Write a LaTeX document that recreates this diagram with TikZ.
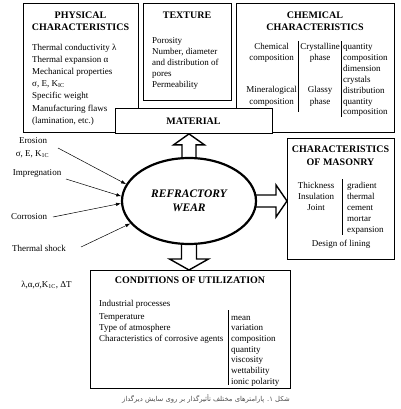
\documentclass[tikz,border=0pt]{standalone}
\usepackage{fontspec}
\setmainfont{Liberation Serif}
\newfontfamily\persianfont[Script=Arabic]{DejaVu Sans}
\TeXXeTstate=1
\usetikzlibrary{positioning,calc,shapes.geometric,arrows.meta,backgrounds}

\tikzset{
  box/.style={draw, line width=0.9pt, fill=white, anchor=north west, inner sep=0pt},
  boxhead/.style={anchor=base, inner sep=0pt, font=\fontsize{10}{12}\selectfont\bfseries},
  boxtext/.style={anchor=base west, inner sep=0pt, font=\fontsize{9}{10}\selectfont},
  boxctext/.style={boxtext, anchor=base},
  fat/.style={draw, line width=1.4pt, fill=white, line join=miter},
  cause/.style={-{Latex[length=5pt,width=3.5pt]}, line width=0.5pt},
  divider/.style={line width=0.6pt},
}

\begin{document}
\begin{tikzpicture}[x=1pt,y=-1pt]
\useasboundingbox (0,0) rectangle (400,409);

% boxes above the wear
\node[box, minimum width=115pt, minimum height=129pt] (phys) at (23,3) {};
\node[box, minimum width=88pt, minimum height=97pt] (tex) at (143,3) {};
\node[box, minimum width=158pt, minimum height=129pt] (chem) at (236,3) {};
\node[box, minimum width=157pt, minimum height=25pt] (mat) at (115,108) {};
\node[boxhead] (matt) at (193.5,124.5) {MATERIAL};

% physical
\node[boxhead] (phyt1) at (80.5,19) {PHYSICAL};
\node[boxhead] (phyt2) at (80.5,31) {CHARACTERISTICS};
\foreach \t [count=\i] in {Thermal conductivity λ, Thermal expansion α, Mechanical properties, {σ, E, K\textsubscript{IC}}, Specific weight, Manufacturing flaws, {(lamination, etc.)}}
  \node[boxtext] (phy\i) at (32,{39+12*\i}) {\t};

% texture
\node[boxhead] (text1) at (187,19) {TEXTURE};
\foreach \t [count=\i] in {Porosity, {Number, diameter}, and distribution of, pores, Permeability}
  \node[boxtext] (tx\i) at (152,{33.2+10.8*\i}) {\t};

% chemical
\node[boxhead] (cht1) at (315,19) {CHEMICAL};
\node[boxhead] (cht2) at (315,31) {CHARACTERISTICS};
\node[boxctext] (chm1) at (271.5,50) {Chemical};
\node[boxctext] (chm2) at (271.5,61) {composition};
\node[boxctext] (chm3) at (271.5,93) {Mineralogical};
\node[boxctext] (chm4) at (271.5,104) {composition};
\node[boxctext] (chp1) at (320,50) {Crystalline};
\node[boxctext] (chp2) at (320,61) {phase};
\node[boxctext] (chp3) at (320,93) {Glassy};
\node[boxctext] (chp4) at (320,104) {phase};
\foreach \t [count=\i] in {quantity, composition, dimension, crystals, distribution, quantity, composition}
  \node[boxtext] (chq\i) at (343,{39.2+10.8*\i}) {\t};
\draw[divider] (298.5,41) -- (298.5,112);
\draw[divider] (341,41) -- (341,117);

% masonry
\node[box, minimum width=107pt, minimum height=121pt] (mas) at (287,138) {};
\node[boxhead] (mast1) at (340.5,152) {CHARACTERISTICS};
\node[boxhead] (mast2) at (340.5,165) {OF MASONRY};
\node[boxctext] (msl1) at (316,188) {Thickness};
\node[boxctext] (msl2) at (316,199) {Insulation};
\node[boxctext] (msl3) at (316,210) {Joint};
\foreach \t [count=\i] in {gradient, thermal, cement, mortar, expansion}
  \node[boxtext] (msr\i) at (347,{177+11*\i}) {\t};
\draw[divider] (342,179) -- (342,235);
\node[boxctext] (msd) at (341,246) {Design of lining};

% conditions
\node[box, minimum width=200pt, minimum height=118pt] (cond) at (90,270) {};
\node[boxhead] (cont) at (190,283) {CONDITIONS OF UTILIZATION};
\node[boxtext] (con1) at (99,306) {Industrial processes};
\node[boxtext] (con2) at (99,319) {Temperature};
\node[boxtext] (con3) at (99,330) {Type of atmosphere};
\node[boxtext] (con4) at (99,341) {Characteristics of corrosive agents};
\foreach \t [count=\i] in {mean, variation, composition, quantity, viscosity, wettability, ionic polarity}
  \node[boxtext] (cor\i) at (231,{309.3+10.7*\i}) {\t};
\draw[divider] (228,310) -- (228,385);

% the wear
\node[draw, ellipse, line width=2.2pt, fill=white, minimum width=134pt, minimum height=86pt,
  inner sep=0pt, align=center, font=\fontsize{11.5}{14}\selectfont\bfseries\itshape] (wear) at (189,201) {REFRACTORY\\WEAR};

\begin{scope}[on background layer]
\draw[fat] ($(wear.center)+(-7,0)$) -- ($(wear.center |- mat.south)+(-7,11)$) -- ++(-8.5,0)
  -- (wear.center |- mat.south) -- ($(wear.center |- mat.south)+(15.5,11)$) -- ++(-8.5,0)
  -- ($(wear.center)+(7,0)$) -- cycle;
\draw[fat] ($(wear.center)+(0,-6)$) -- ($(wear.center -| mas.west)+(-11,-6)$) -- ++(0,-10)
  -- (wear.center -| mas.west) -- ($(wear.center -| mas.west)+(-11,16)$) -- ++(0,-10)
  -- ($(wear.center)+(0,6)$) -- cycle;
\draw[fat] ($(wear.center)+(-7.5,0)$) -- ($(wear.center |- cond.north)+(-7.5,-11)$) -- ++(-12,0)
  -- (wear.center |- cond.north) -- ($(wear.center |- cond.north)+(19.5,-11)$) -- ++(-12,0)
  -- ($(wear.center)+(7.5,0)$) -- cycle;
\end{scope}

% causes on the left
\node[boxctext] (ero) at (33,143) {Erosion};
\node[boxctext] (ero2) at (32.5,156) {σ, E, K\textsubscript{1C}};
\node[boxctext] (imp) at (37,175) {Impregnation};
\node[boxctext] (corr) at (29,219) {Corrosion};
\node[boxctext] (shock) at (39,251) {Thermal shock};
\node[boxctext] (par) at (46.5,287) {λ,α,σ,K\textsubscript{1C}, ΔT};
\coordinate (ero0) at (58,148);
\coordinate (imp0) at (66,179);
\coordinate (corr0) at (53,217);
\coordinate (shock0) at (81,247);
\draw[cause] (ero0) -- (wear.165);
\draw[cause] (imp0) -- (wear.176.6);
\draw[cause] (corr0) -- (wear.182.6);
\draw[cause] (shock0) -- (wear.201.3);

% caption
\node[inner sep=0pt, text=black!70, font=\persianfont\fontsize{6.8}{8}\selectfont] (cap) at (206,399)
  {\beginR شکل ۱. پارامترهای مختلف تأثیرگذار بر روی سایش دیرگداز\endR};
\end{tikzpicture}
\end{document}
